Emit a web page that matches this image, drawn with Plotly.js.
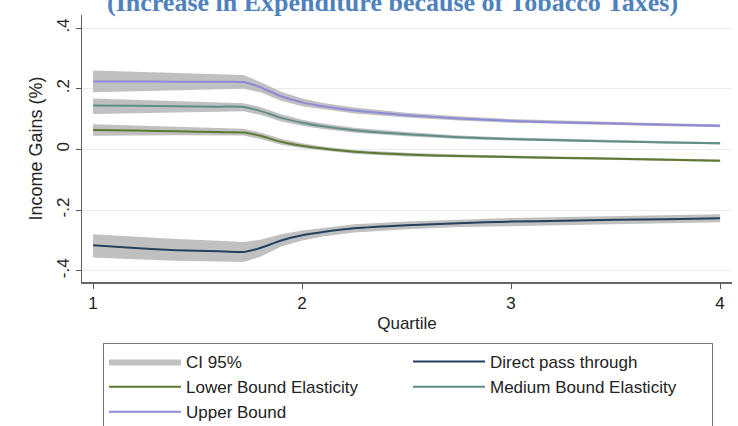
<!DOCTYPE html>
<html>
<head>
<meta charset="utf-8">
<script src="https://cdn.plot.ly/plotly-3.0.1.min.js"></script>
<style>html,body{margin:0;padding:0;background:#fff;}#chart{width:738px;height:426px;}</style>
</head>
<body>
<div id="chart"></div>
<script>
// Quartile positions
var quartile = [1, 1.2, 1.4, 1.6, 1.72, 1.8, 1.9, 2.0, 2.1, 2.25, 2.5, 2.75, 3.0, 3.25, 3.5, 3.75, 4.0];

// Point estimates
var upperBound = [0.224, 0.224, 0.223, 0.223, 0.222, 0.205, 0.175, 0.155, 0.142, 0.128, 0.113, 0.102, 0.094, 0.089, 0.085, 0.081, 0.078];
var mediumBound = [0.145, 0.144, 0.142, 0.141, 0.140, 0.127, 0.104, 0.088, 0.076, 0.063, 0.050, 0.040, 0.034, 0.030, 0.026, 0.023, 0.020];
var lowerBound = [0.064, 0.062, 0.060, 0.057, 0.056, 0.045, 0.025, 0.012, 0.003, -0.008, -0.017, -0.022, -0.025, -0.028, -0.031, -0.034, -0.037];
var directPass = [-0.316, -0.325, -0.332, -0.336, -0.338, -0.325, -0.300, -0.283, -0.272, -0.260, -0.250, -0.243, -0.238, -0.235, -0.232, -0.230, -0.227];

// 95% confidence intervals
var upperHi = [0.260, 0.256, 0.252, 0.248, 0.245, 0.222, 0.190, 0.168, 0.153, 0.138, 0.121, 0.109, 0.100, 0.095, 0.090, 0.086, 0.083];
var upperLo = [0.188, 0.191, 0.195, 0.198, 0.200, 0.188, 0.160, 0.142, 0.131, 0.118, 0.105, 0.095, 0.088, 0.083, 0.080, 0.076, 0.073];
var mediumHi = [0.168, 0.163, 0.159, 0.155, 0.152, 0.140, 0.116, 0.098, 0.085, 0.071, 0.057, 0.046, 0.039, 0.035, 0.031, 0.027, 0.024];
var mediumLo = [0.117, 0.120, 0.122, 0.124, 0.126, 0.114, 0.092, 0.078, 0.067, 0.055, 0.043, 0.034, 0.029, 0.025, 0.021, 0.019, 0.016];
var lowerHi = [0.083, 0.079, 0.075, 0.071, 0.068, 0.056, 0.035, 0.020, 0.010, -0.002, -0.011, -0.017, -0.020, -0.023, -0.026, -0.030, -0.033];
var lowerLo = [0.045, 0.046, 0.047, 0.047, 0.046, 0.034, 0.015, 0.004, -0.004, -0.014, -0.023, -0.027, -0.030, -0.033, -0.036, -0.038, -0.041];
var directHi = [-0.280, -0.288, -0.295, -0.301, -0.305, -0.298, -0.280, -0.267, -0.258, -0.247, -0.238, -0.231, -0.226, -0.223, -0.220, -0.217, -0.214];
var directLo = [-0.356, -0.362, -0.367, -0.370, -0.371, -0.354, -0.320, -0.300, -0.287, -0.274, -0.263, -0.256, -0.251, -0.248, -0.245, -0.243, -0.240];

// Labels
var yTickVals = [-0.4, -0.2, 0, 0.2, 0.4];
var yTickText = ['-.4', '-.2', '0', '.2', '.4'];
var xTickVals = [1, 2, 3, 4];
var xTickText = ['1', '2', '3', '4'];
var titleText = '(Increase in Expenditure because of Tobacco Taxes)';

var BAND = 'rgb(192,192,192)';
function band(hi, lo, show) {
  return {
    x: quartile.concat(quartile.slice().reverse()),
    y: hi.concat(lo.slice().reverse()),
    type: 'scatter', mode: 'lines', fill: 'toself', fillcolor: BAND,
    line: {width: 0, color: BAND}, hoverinfo: 'skip',
    name: 'CI 95%', legendgroup: 'ci', showlegend: show, legendrank: 1
  };
}
function line(y, color, name, rank) {
  return {x: quartile, y: y, type: 'scatter', mode: 'lines',
    line: {color: color, width: 2, shape: 'spline', smoothing: 0.6},
    name: name, legendrank: rank};
}

var data = [
  band(upperHi, upperLo, true),
  band(mediumHi, mediumLo, false),
  band(lowerHi, lowerLo, false),
  band(directHi, directLo, false),
  line(directPass, '#24415f', 'Direct pass through', 2),
  line(lowerBound, '#5b7a30', 'Lower Bound Elasticity', 3),
  line(mediumBound, '#5f8d88', 'Medium Bound Elasticity', 4),
  line(upperBound, '#8c89d8', 'Upper Bound', 5)
];

var FONT = 'Liberation Sans, Arial, sans-serif';
var layout = {
  width: 738, height: 426,
  margin: {l: 82, r: 6, t: 15, b: 144},
  paper_bgcolor: '#fff', plot_bgcolor: '#fff',
  font: {family: FONT, size: 17, color: '#222'},
  showlegend: true,
  xaxis: {
    range: [0.947, 4.057], tickvals: xTickVals, ticktext: xTickText,
    ticks: 'outside', ticklen: 5, tickcolor: '#555', tickwidth: 1,
    showline: true, linecolor: '#666', linewidth: 1.5,
    showgrid: false, zeroline: false,
    tickfont: {size: 17, family: FONT, color: '#222'},
    title: {text: 'Quartile', font: {size: 17, family: FONT, color: '#222'}, standoff: 5}
  },
  yaxis: {
    range: [-0.437, 0.443], tickvals: yTickVals, ticktext: yTickText,
    tickangle: -90,
    ticks: 'outside', ticklen: 5, tickcolor: '#555', tickwidth: 1,
    showline: true, linecolor: '#666', linewidth: 1.5,
    showgrid: true, gridcolor: '#ececec', gridwidth: 1, zeroline: false,
    tickfont: {size: 17, family: FONT, color: '#222'},
    title: {text: 'Income Gains (%)', font: {size: 18, family: FONT, color: '#222'}, standoff: 6}
  },
  legend: {
    orientation: 'h', xref: 'container', yref: 'container',
    x: 103 / 738, xanchor: 'left', y: 1 - 343 / 426, yanchor: 'top',
    bordercolor: '#777', borderwidth: 1, bgcolor: '#fff',
    font: {size: 17, family: FONT, color: '#222'},
    entrywidth: 217, entrywidthmode: 'pixels', itemwidth: 72, traceorder: 'normal'
  },
  annotations: [{
    text: '<b>' + titleText + '</b>', xref: 'paper', yref: 'paper',
    x: 0.478, y: 1, yshift: -4, xanchor: 'center', yanchor: 'bottom', showarrow: false,
    font: {family: 'Liberation Serif, Times New Roman, serif', size: 26, color: '#4f81bd'}
  }]
};

Plotly.newPlot('chart', data, layout, {displayModeBar: false, staticPlot: true});
</script>
</body>
</html>
